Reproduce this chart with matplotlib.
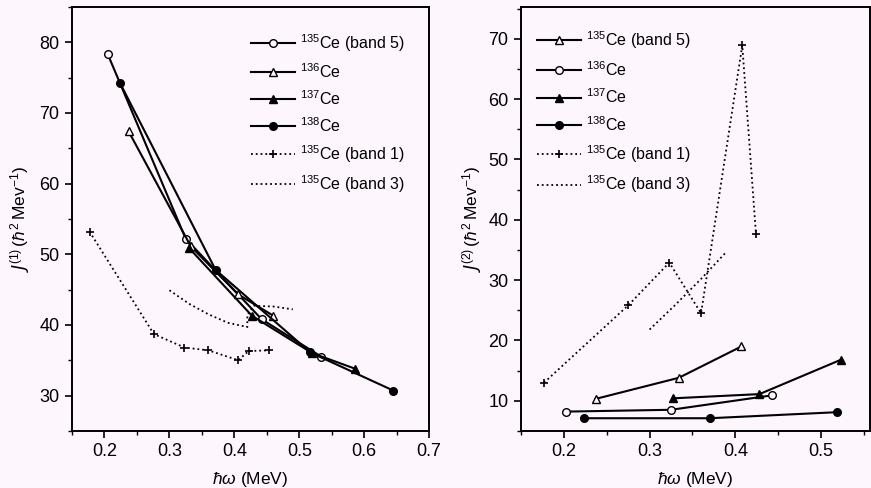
import numpy as np
import matplotlib
matplotlib.use('Agg')
import matplotlib.pyplot as plt

plt.rcParams['font.family'] = ['Liberation Sans', 'DejaVu Sans']
plt.rcParams['mathtext.fontset'] = 'custom'
plt.rcParams['mathtext.rm'] = 'Liberation Sans'
plt.rcParams['mathtext.it'] = 'Liberation Sans:italic'
plt.rcParams['mathtext.cal'] = 'DejaVu Sans:italic'

# ---- left panel: J(1) ----
b5_x = [0.205, 0.325, 0.442, 0.534]
b5_y = [78.3, 52.2, 40.8, 35.5]
ce136_x = [0.237, 0.333, 0.406, 0.460]
ce136_y = [67.4, 51.1, 44.3, 41.3]
ce137_x = [0.330, 0.427, 0.520, 0.586]
ce137_y = [50.9, 41.3, 36.0, 33.8]
ce138_x = [0.224, 0.371, 0.517, 0.645]
ce138_y = [74.2, 47.8, 36.1, 30.7]
b1_x = [0.177, 0.276, 0.323, 0.360, 0.406, 0.422, 0.453]
b1_y = [53.2, 38.7, 36.8, 36.4, 35.0, 36.3, 36.4]
b3_x = [0.300, 0.330, 0.360, 0.390, 0.420, 0.420, 0.430, 0.460, 0.490]
b3_y = [44.9, 43.0, 41.5, 40.3, 39.7, 41.4, 42.7, 42.6, 42.2]

# ---- right panel: J(2) ----
r_b5_x = [0.237, 0.334, 0.407]
r_b5_y = [10.3, 13.8, 19.0]
r_136_x = [0.203, 0.325, 0.443]
r_136_y = [8.2, 8.5, 10.9]
r_137_x = [0.327, 0.428, 0.523]
r_137_y = [10.4, 11.1, 16.8]
r_138_x = [0.224, 0.370, 0.518]
r_138_y = [7.1, 7.1, 8.1]
r_b1_x = [0.177, 0.275, 0.323, 0.360, 0.408, 0.424]
r_b1_y = [13.0, 25.8, 32.9, 24.5, 68.9, 37.6]
r_b3_x = [0.300, 0.330, 0.360, 0.389]
r_b3_y = [21.8, 25.9, 30.2, 34.6]

bg = '#fdf7fd'
fig = plt.figure(figsize=(8.71, 4.88), dpi=100, facecolor=bg)
ax1 = fig.add_axes([0.0827, 0.117, 0.41, 0.869], facecolor=bg)
ax2 = fig.add_axes([0.598, 0.117, 0.401, 0.869], facecolor=bg)

lw = 1.5
ms = 5.5


def solid(ax, x, y, m, fill, lab):
    ax.plot(x, y, '-', color='black', lw=lw, marker=m, ms=ms,
            mfc='black' if fill else bg, mec='black', mew=1.0, label=lab)


solid(ax1, b5_x, b5_y, 'o', False, r'$^{135}$Ce (band 5)')
solid(ax1, ce136_x, ce136_y, '^', False, r'$^{136}$Ce')
solid(ax1, ce137_x, ce137_y, '^', True, r'$^{137}$Ce')
solid(ax1, ce138_x, ce138_y, 'o', True, r'$^{138}$Ce')
ax1.plot(b1_x, b1_y, ':', color='black', lw=1.3, marker='+', ms=6, mew=1.2,
         label=r'$^{135}$Ce (band 1)')
ax1.plot(b3_x, b3_y, ':', color='black', lw=1.3, label=r'$^{135}$Ce (band 3)')

solid(ax2, r_b5_x, r_b5_y, '^', False, r'$^{135}$Ce (band 5)')
solid(ax2, r_136_x, r_136_y, 'o', False, r'$^{136}$Ce')
solid(ax2, r_137_x, r_137_y, '^', True, r'$^{137}$Ce')
solid(ax2, r_138_x, r_138_y, 'o', True, r'$^{138}$Ce')
ax2.plot(r_b1_x, r_b1_y, ':', color='black', lw=1.3, marker='+', ms=6, mew=1.2,
         label=r'$^{135}$Ce (band 1)')
ax2.plot(r_b3_x, r_b3_y, ':', color='black', lw=1.3, label=r'$^{135}$Ce (band 3)')

ax1.set_xlim(0.15, 0.7)
ax1.set_ylim(25, 85)
ax1.set_xticks([0.2, 0.3, 0.4, 0.5, 0.6, 0.7])
ax1.set_xticks(np.arange(0.15, 0.71, 0.05), minor=True)
ax1.set_yticks([30, 40, 50, 60, 70, 80])
ax1.set_yticks(np.arange(25, 86, 5), minor=True)

ax2.set_xlim(0.15, 0.557)
ax2.set_ylim(5, 75.3)
ax2.set_xticks([0.2, 0.3, 0.4, 0.5])
ax2.set_xticks(np.arange(0.15, 0.56, 0.05), minor=True)
ax2.set_yticks([10, 20, 30, 40, 50, 60, 70])
ax2.set_yticks(np.arange(5, 76, 5), minor=True)

for ax in (ax1, ax2):
    for s in ax.spines.values():
        s.set_linewidth(1.4)
    ax.tick_params(which='major', direction='out', length=5, width=1.2,
                   labelsize=13, pad=4)
    ax.tick_params(which='minor', direction='out', length=3, width=1.0)
    ax.set_xlabel(r'$\hbar\omega$ (MeV)', fontsize=12.5, labelpad=7)

ax1.set_ylabel(r'$\mathcal{J}^{(1)}\,(\hbar^2\,\mathrm{Mev}^{-1})$', fontsize=12.5, labelpad=5)
ax2.set_ylabel(r'$\mathcal{J}^{(2)}\,(\hbar^2\,\mathrm{Mev}^{-1})$', fontsize=12.5, labelpad=3)

ax1.legend(loc='upper left', bbox_to_anchor=(0.50, 0.94), frameon=False,
           fontsize=11.5, handlelength=2.8, handletextpad=0.3, labelspacing=0.52,
           borderpad=0, borderaxespad=0)
ax2.legend(loc='upper left', bbox_to_anchor=(0.045, 0.947), frameon=False,
           fontsize=11.5, handlelength=2.8, handletextpad=0.3, labelspacing=0.56,
           borderpad=0, borderaxespad=0)

fig.savefig('out.png', dpi=100, facecolor=bg)
